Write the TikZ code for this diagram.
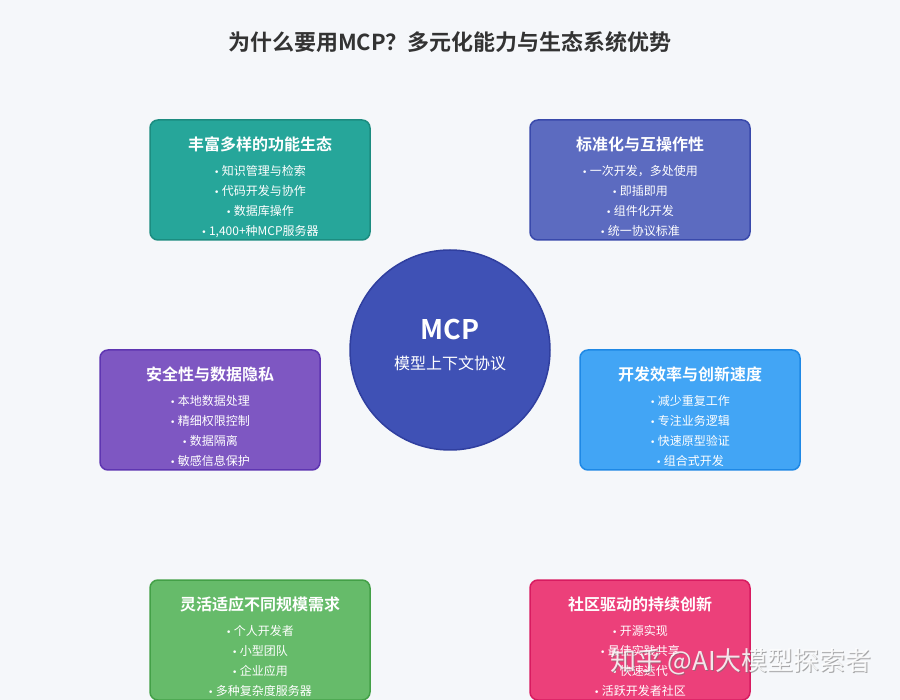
\documentclass[tikz,border=0pt]{standalone}
\usepackage{fontspec}
\setmainfont{Noto Sans CJK SC}[BoldFont={Noto Sans CJK SC Bold}]
\newfontfamily\dvs{DejaVu Sans}
\usetikzlibrary{positioning}
\definecolor{bg}{HTML}{F5F7FA}
\definecolor{titlec}{HTML}{333333}
\definecolor{tealf}{HTML}{26A69A}\definecolor{teald}{HTML}{1C8C80}
\definecolor{indf}{HTML}{5C6BC0}\definecolor{indd}{HTML}{3949AB}
\definecolor{purf}{HTML}{7E57C2}\definecolor{purd}{HTML}{5E35B1}
\definecolor{bluf}{HTML}{42A5F5}\definecolor{blud}{HTML}{1E88E5}
\definecolor{grnf}{HTML}{66BB6A}\definecolor{grnd}{HTML}{43A047}
\definecolor{pnkf}{HTML}{EC407A}\definecolor{pnkd}{HTML}{D81B60}
\definecolor{circf}{HTML}{3F51B5}\definecolor{circd}{HTML}{303F9F}
\newcommand{\bul}{{\dvs\fontsize{9}{10}\selectfont •}\hspace{2.5pt}}
\tikzset{
  card/.style={rounded corners=8pt, line width=1.5pt, minimum width=220pt, minimum height=120pt, inner sep=0pt},
  cardtitle/.style={text=white, font=\bfseries\fontsize{16}{18}\selectfont, anchor=center},
  item/.style={text=white, font=\fontsize{12}{14}\selectfont, anchor=center},
}
\newcommand{\mkcard}[8]{%
  \node[card, draw=#3, fill=#2] (#1) at (#4) {};
  \node[cardtitle] (#1t) at ([yshift=-25pt]#1.north) {#5};
  \node[item] (#1a) at ([yshift=-52pt]#1.north) {\bul #6};
  \node[item] (#1b) at ([yshift=-72pt]#1.north) {\bul #7};
  \node[item] (#1c) at ([yshift=-92pt]#1.north) {\bul #8};
}
\begin{document}
\begin{tikzpicture}[x=1pt,y=-1pt]
\fill[bg] (0,0) rectangle (900,700);
\useasboundingbox (0,0) rectangle (900,700);
\node[text=titlec, font=\bfseries\fontsize{22}{26}\selectfont] (title) at (450,42) {为什么要用MCP？多元化能力与生态系统优势};

\mkcard{c1}{tealf}{teald}{260,180}{丰富多样的功能生态}{知识管理与检索}{代码开发与协作}{数据库操作}
\node[item] (c1d) at ([yshift=-112pt]c1.north) {\bul 1,400+种MCP服务器};

\mkcard{c2}{indf}{indd}{640,180}{标准化与互操作性}{一次开发，多处使用}{即插即用}{组件化开发}
\node[item] (c2d) at ([yshift=-112pt]c2.north) {\bul 统一协议标准};

\mkcard{c3}{purf}{purd}{210,410}{安全性与数据隐私}{本地数据处理}{精细权限控制}{数据隔离}
\node[item] (c3d) at ([yshift=-112pt]c3.north) {\bul 敏感信息保护};

\mkcard{c4}{bluf}{blud}{690,410}{开发效率与创新速度}{减少重复工作}{专注业务逻辑}{快速原型验证}
\node[item] (c4d) at ([yshift=-112pt]c4.north) {\bul 组合式开发};

\mkcard{c5}{grnf}{grnd}{260,640}{灵活适应不同规模需求}{个人开发者}{小型团队}{企业应用}
\node[item] (c5d) at ([yshift=-112pt]c5.north) {\bul 多种复杂度服务器};

\mkcard{c6}{pnkf}{pnkd}{640,640}{社区驱动的持续创新}{开源实现}{最佳实践共享}{快速迭代}
\node[item] (c6d) at ([yshift=-112pt]c6.north) {\bul 活跃开发者社区};

\node[circle, minimum size=200pt, inner sep=0pt, fill=circf, draw=circd, line width=1.5pt] (mcp) at (450,350) {};
\node[text=white, font=\bfseries\fontsize{27}{30}\selectfont] (mcpt) at (450,330) {MCP};
\node[text=white, font=\fontsize{16}{18}\selectfont] (mcps) at (450,363) {模型上下文协议};

\node[text=black!55, opacity=0.6, font=\fontsize{26}{28}\selectfont] (wm0) at (742,663) {知乎 @AI大模型探索者};
\node[text=white, opacity=0.85, font=\fontsize{26}{28}\selectfont] (wm) at (741,662) {知乎 @AI大模型探索者};
\end{tikzpicture}
\end{document}
